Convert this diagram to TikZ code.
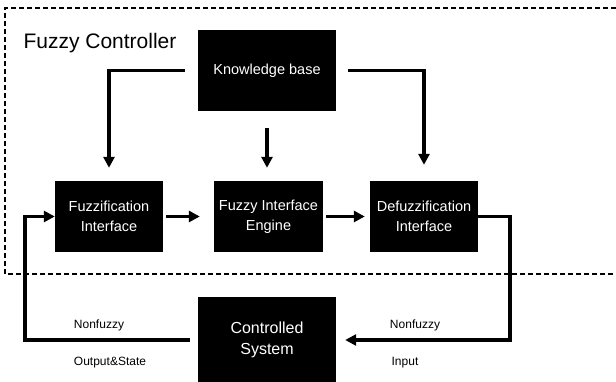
\documentclass[tikz,border=0pt]{standalone}
\usepackage{fontspec}
\setmainfont{Liberation Sans}
\usetikzlibrary{arrows.meta}

\begin{document}
\begin{tikzpicture}[x=1pt, y=-1pt,
        block/.style={fill=black, text=white, align=center, inner sep=0pt,
            font=\fontsize{14.5}{20}\selectfont},
        flow/.style={line width=3.6pt, -{Triangle[length=11pt,width=11pt]}},
        tag/.style={font=\fontsize{12}{13}\selectfont}]
    \useasboundingbox (0,0) rectangle (616,382);
    % controller frame, open to the right
    \draw[dash pattern=on 5pt off 3pt, line width=1.3pt] (616,8) -- (5,8) -- (5,274) -- (616,274);
    \node[anchor=west, font=\fontsize{21}{24}\selectfont] (title) at (20,43) {Fuzzy Controller};

    \node[block, minimum width=138, minimum height=81] (kb) at (267,70.5) {Knowledge base};
    \node[block, minimum width=108, minimum height=71] (fuzz) at (109,216.5) {Fuzzification\\Interface};
    \node[block, minimum width=109, minimum height=71] (engine) at (268.5,216.5) {Fuzzy Interface\\Engine};
    \node[block, minimum width=108, minimum height=71] (defuzz) at (424,216.5) {Defuzzification\\Interface};
    \node[block, minimum width=138, minimum height=86, font=\fontsize{16}{21}\selectfont]
        (plant) at (267,340) {Controlled\\System};

    % knowledge base to the three blocks
    \draw[flow, shorten <=13pt, shorten >=13pt] (kb.west) -| (fuzz.north);
    \draw[flow, shorten <=17pt, shorten >=13pt] (kb.south) -- (kb.south |- fuzz.north);
    \draw[flow, shorten <=12pt, shorten >=16pt] (kb.east) -| (defuzz.north);

    % main chain
    \draw[flow, shorten <=3pt, shorten >=14pt] (fuzz.east) -- (engine.west);
    \draw[flow, shorten <=3pt, shorten >=5pt] (engine.east) -- (defuzz.west);

    % feedback loop through the plant
    \coordinate (outL) at (25,340);
    \coordinate (outR) at (510,340);
    \draw[flow, shorten <=8pt] (plant.west) -- (outL) |- (fuzz.west);
    \draw[flow, shorten >=9pt] (defuzz.east) -| (outR) -- (plant.east);

    \node[tag] (nfL) at (99,325) {Nonfuzzy};
    \node[tag] (state) at (110,363) {Output\&State};
    \node[tag] (nfR) at (415,325) {Nonfuzzy};
    \node[tag] (input) at (405,363) {Input};
\end{tikzpicture}
\end{document}
